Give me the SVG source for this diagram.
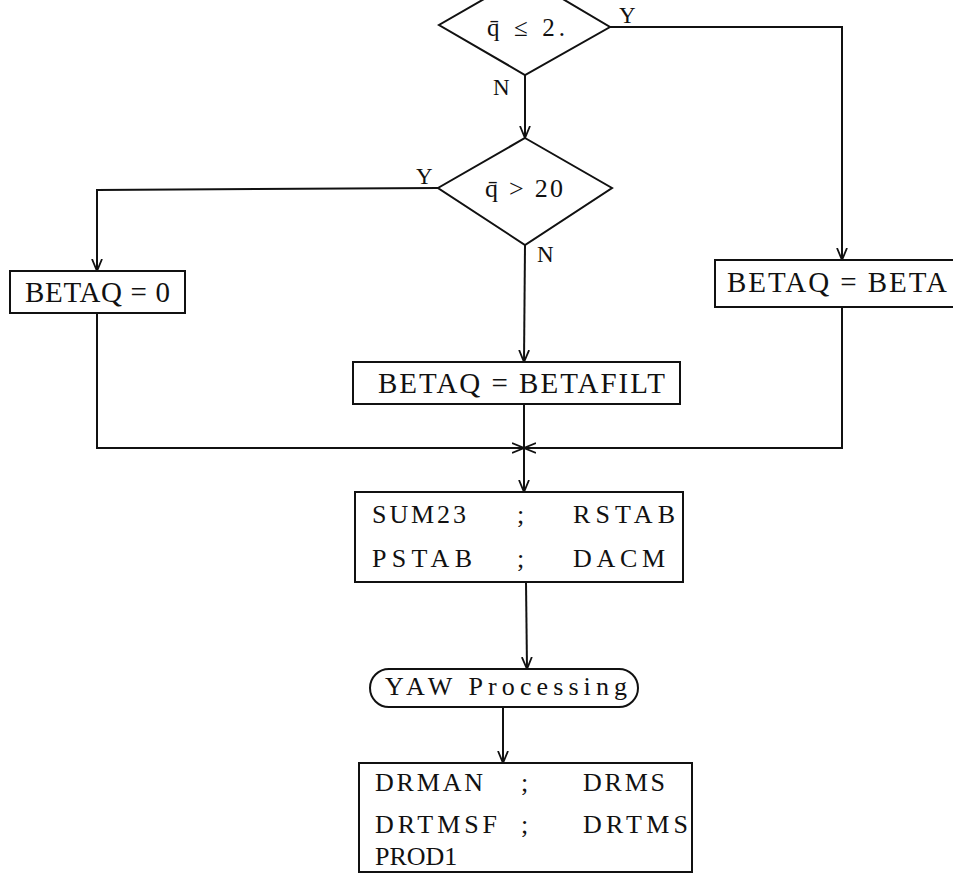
<svg xmlns="http://www.w3.org/2000/svg" width="953" height="874" viewBox="0 0 953 874">
<defs>
<style>
.s{fill:none;stroke:#111;stroke-width:2}
.t{font-family:"Liberation Serif","DejaVu Serif",serif;fill:#111;font-size:26px}
.b{font-size:29px}
.l{font-size:23px}
.q{font-size:25px}
</style>
<marker id="ar" viewBox="0 0 12 12" refX="12" refY="6" markerWidth="12" markerHeight="12" markerUnits="userSpaceOnUse" orient="auto">
<path d="M0,1 L12,6 L0,11" fill="none" stroke="#111" stroke-width="1.8"/>
</marker>
</defs>
<rect width="953" height="874" fill="#fff"/>
<g id="connectors" class="s">
<polyline points="610,27 842,27 842,260" marker-end="url(#ar)"/>
<line x1="525" y1="75" x2="525" y2="138" marker-end="url(#ar)"/>
<polyline points="438,188 97,190 97,271" marker-end="url(#ar)"/>
<line x1="525" y1="245" x2="524" y2="362" marker-end="url(#ar)"/>
<polyline points="97,313 97,448 524,448" marker-end="url(#ar)"/>
<polyline points="842,307 842,448 524,448" marker-end="url(#ar)"/>
<line x1="524" y1="404" x2="524" y2="492" marker-end="url(#ar)"/>
<line x1="526" y1="582" x2="527" y2="669" marker-end="url(#ar)"/>
<line x1="503" y1="707" x2="503" y2="763" marker-end="url(#ar)"/>
</g>
<g id="d1">
<polygon class="s" points="524,-24 610,27 525,75 439,25"/>
<text class="t q" x="487" y="36" textLength="78" lengthAdjust="spacing">q̄ ≤ 2.</text>
<text class="t l" x="619" y="23">Y</text>
<text class="t l" x="493" y="95">N</text>
</g>
<g id="d2">
<polygon class="s" points="525,138 612,188 525,245 438,188"/>
<text class="t" x="485" y="197" textLength="78" lengthAdjust="spacing">q̄ &gt; 20</text>
<text class="t l" x="416" y="184">Y</text>
<text class="t l" x="537" y="262">N</text>
</g>
<g id="n_betaq0">
<rect class="s" x="10" y="271" width="175" height="42"/>
<text class="t b" x="25" y="302" textLength="145" lengthAdjust="spacing">BETAQ = 0</text>
</g>
<g id="n_betaqbeta">
<rect class="s" x="715" y="260" width="250" height="47"/>
<text class="t b" x="727" y="292" textLength="220" lengthAdjust="spacing">BETAQ = BETA</text>
</g>
<g id="n_betafilt">
<rect class="s" x="353" y="362" width="327" height="42"/>
<text class="t b" x="378" y="393" textLength="287" lengthAdjust="spacing">BETAQ = BETAFILT</text>
</g>
<g id="n_sum23">
<rect class="s" x="355" y="492" width="328" height="90"/>
<text class="t" x="372" y="523" textLength="94" lengthAdjust="spacing">SUM23</text>
<text class="t" x="517" y="523">;</text>
<text class="t" x="573" y="523" textLength="102" lengthAdjust="spacing">RSTAB</text>
<text class="t" x="372" y="567" textLength="100" lengthAdjust="spacing">PSTAB</text>
<text class="t" x="517" y="567">;</text>
<text class="t" x="573" y="567" textLength="92" lengthAdjust="spacing">DACM</text>
</g>
<g id="n_yaw">
<rect class="s" x="370" y="669" width="268" height="38" rx="19" ry="19"/>
<text class="t" x="385" y="695" textLength="242" lengthAdjust="spacing">YAW Processing</text>
</g>
<g id="n_drman">
<rect class="s" x="359" y="763" width="333" height="109"/>
<text class="t" x="375" y="791" textLength="108" lengthAdjust="spacing">DRMAN</text>
<text class="t" x="521" y="791">;</text>
<text class="t" x="583" y="791" textLength="82" lengthAdjust="spacing">DRMS</text>
<text class="t" x="375" y="833" textLength="122" lengthAdjust="spacing">DRTMSF</text>
<text class="t" x="521" y="833">;</text>
<text class="t" x="583" y="833" textLength="105" lengthAdjust="spacing">DRTMS</text>
<text class="t" x="375" y="865">PROD1</text>
</g>
</svg>
